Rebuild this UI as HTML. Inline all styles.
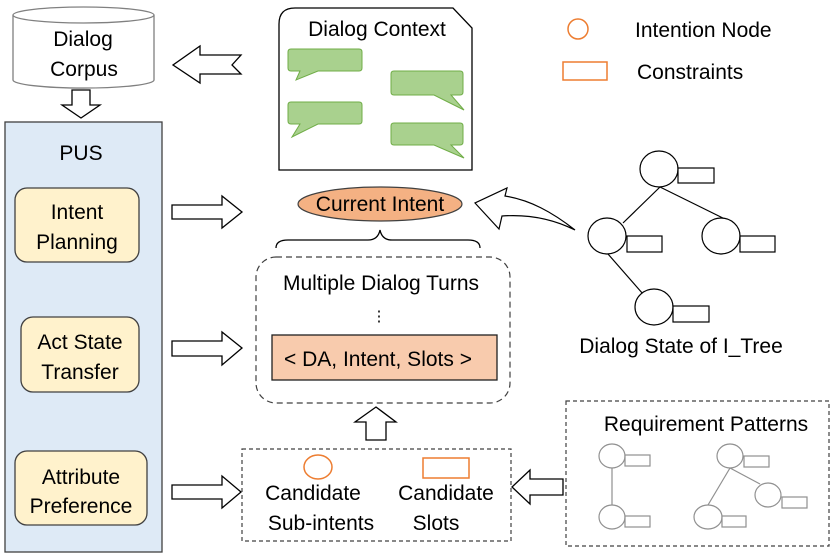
<!DOCTYPE html>
<html><head><meta charset="utf-8"><style>
html,body{margin:0;padding:0;background:#fff}
svg{display:block}
text{font-family:"Liberation Sans",sans-serif;font-size:21px;fill:#000}
</style></head><body>
<svg width="830" height="558" viewBox="0 0 830 558" xmlns="http://www.w3.org/2000/svg">
<!-- cylinder -->
<path d="M13,15 L13,80 A70,8 0 0 0 154,80 L154,15" fill="#fff" stroke="#808080" stroke-width="1.3"/>
<ellipse cx="83.5" cy="15" rx="70.5" ry="8" fill="#fff" stroke="#808080" stroke-width="1.3"/>
<text x="83" y="46" text-anchor="middle">Dialog</text>
<text x="84" y="76" text-anchor="middle">Corpus</text>
<!-- left arrow -->
<path d="M241,55 L200,55 L200,46 L173,65 L200,83 L200,74 L241,74 L232,65 Z" fill="#fff" stroke="#000" stroke-width="1.3"/>
<!-- down arrow -->
<path d="M72,90 L90,90 L90,105 L100,105 L81,118 L62,105 L72,105 Z" fill="#fff" stroke="#000" stroke-width="1.3"/>
<!-- PUS -->
<rect x="5" y="122" width="157" height="430" fill="#DEEAF6" stroke="#404040" stroke-width="1.3"/>
<text x="81" y="160" text-anchor="middle">PUS</text>
<rect x="15" y="188" width="124" height="74" rx="12" fill="#FFF2CC" stroke="#404040" stroke-width="1.3"/>
<text x="77" y="219" text-anchor="middle">Intent</text>
<text x="77" y="249" text-anchor="middle">Planning</text>
<rect x="21" y="317" width="118" height="75" rx="12" fill="#FFF2CC" stroke="#404040" stroke-width="1.3"/>
<text x="80" y="349" text-anchor="middle">Act State</text>
<text x="80" y="379" text-anchor="middle">Transfer</text>
<rect x="15" y="451" width="132" height="74" rx="12" fill="#FFF2CC" stroke="#404040" stroke-width="1.3"/>
<text x="81" y="484" text-anchor="middle">Attribute</text>
<text x="81" y="513" text-anchor="middle">Preference</text>
<!-- right arrows -->
<path d="M172,205 L222,205 L222,196 L242,212 L222,228 L222,219 L172,219 Z" fill="#fff" stroke="#000" stroke-width="1.3"/>
<path d="M172,341 L222,341 L222,332 L242,348 L222,365 L222,356 L172,356 Z" fill="#fff" stroke="#000" stroke-width="1.3"/>
<path d="M172,485 L222,485 L222,476 L241,492 L222,508 L222,499 L172,499 Z" fill="#fff" stroke="#000" stroke-width="1.3"/>
<!-- dialog context -->
<path d="M295,8 L453,8 L472,28 L472,170 L279,170 L279,24 Q279,8 295,8 Z" fill="#fff" stroke="#000" stroke-width="1.3"/>
<text x="377" y="36" text-anchor="middle">Dialog Context</text>
<g fill="#A9D18E" stroke="#70AD47" stroke-width="1">
<path d="M291,49 L359,49 Q362,49 362,52 L362,68 Q362,71 359,71 L318,71 L296,80 L300,71 L291,71 Q288,71 288,68 L288,52 Q288,49 291,49 Z"/>
<path d="M394,71 L460,71 Q463,71 463,74 L463,92 Q463,95 460,95 L451,95 L464,110 L434,95 L394,95 Q391,95 391,92 L391,74 Q391,71 394,71 Z"/>
<path d="M291,102 L359,102 Q362,102 362,105 L362,121 Q362,124 359,124 L318,124 L292,137 L300,124 L291,124 Q288,124 288,121 L288,105 Q288,102 291,102 Z"/>
<path d="M394,123 L460,123 Q463,123 463,126 L463,142 Q463,145 460,145 L451,145 L464,158 L434,145 L394,145 Q391,145 391,142 L391,126 Q391,123 394,123 Z"/>
</g>
<!-- legend -->
<ellipse cx="578" cy="29" rx="10" ry="10" fill="#fff" stroke="#ED7D31" stroke-width="1.5"/>
<text x="635" y="37">Intention Node</text>
<rect x="563" y="62" width="44" height="18" fill="#fff" stroke="#ED7D31" stroke-width="1.5"/>
<text x="637" y="79">Constraints</text>
<!-- current intent -->
<ellipse cx="380" cy="204" rx="82" ry="17" fill="#F4B183" stroke="#404040" stroke-width="1.2"/>
<text x="380" y="211" text-anchor="middle">Current Intent</text>
<!-- brace -->
<path d="M276,248 Q276,240 288,240 L368,240 Q378,240 380,230 Q382,240 392,240 L468,240 Q480,240 480,248" fill="none" stroke="#000" stroke-width="1.3"/>
<!-- curved arrow -->
<path d="M575,230 C552,212 530,200 505,196 L507,188 L475,203 L499,229 L502,216 C530,214 555,220 575,230 Z" fill="#fff" stroke="#000" stroke-width="1.2"/>
<!-- multiple dialog turns -->
<rect x="256" y="257" width="254" height="146" rx="20" fill="#fff" stroke="#404040" stroke-width="1.2" stroke-dasharray="6,4"/>
<text x="381" y="290" text-anchor="middle">Multiple Dialog Turns</text>
<text x="379" y="321" text-anchor="middle" style="font-size:15px">⋮</text>
<rect x="272" y="335" width="225" height="45" fill="#F8CBAD" stroke="#202020" stroke-width="1.3"/>
<text x="378" y="366" text-anchor="middle">&lt; DA, Intent, Slots &gt;</text>
<!-- up arrow -->
<path d="M366,440 L386,440 L386,422 L396,422 L376,407 L355,422 L366,422 Z" fill="#fff" stroke="#000" stroke-width="1.3"/>
<!-- candidate box -->
<rect x="242" y="449" width="269" height="92" fill="#fff" stroke="#404040" stroke-width="1.2" stroke-dasharray="4,3"/>
<ellipse cx="318" cy="467" rx="14" ry="12" fill="#fff" stroke="#ED7D31" stroke-width="1.5"/>
<rect x="423" y="458" width="46" height="20" fill="#fff" stroke="#ED7D31" stroke-width="1.5"/>
<text x="313" y="500" text-anchor="middle">Candidate</text>
<text x="321" y="530" text-anchor="middle">Sub-intents</text>
<text x="446" y="500" text-anchor="middle">Candidate</text>
<text x="436" y="530" text-anchor="middle">Slots</text>
<!-- left arrow from patterns -->
<path d="M563,479 L530,479 L530,470 L512,487 L530,504 L530,495 L563,495 Z" fill="#fff" stroke="#000" stroke-width="1.3"/>
<!-- requirement patterns -->
<rect x="566" y="401" width="263" height="145" fill="#fff" stroke="#404040" stroke-width="1.2" stroke-dasharray="4,3"/>
<text x="706" y="431" text-anchor="middle">Requirement Patterns</text>
<g fill="#fff" stroke="#909090" stroke-width="1.2">
<line x1="612" y1="468" x2="612" y2="505"/>
<ellipse cx="612" cy="456" rx="13" ry="12"/><rect x="625" y="455" width="25" height="11"/>
<ellipse cx="612" cy="517" rx="13" ry="12"/><rect x="625" y="516" width="25" height="11"/>
<line x1="730" y1="468" x2="708" y2="505"/>
<line x1="730" y1="468" x2="760" y2="484"/>
<ellipse cx="730" cy="456" rx="13" ry="12"/><rect x="744" y="456" width="25" height="11"/>
<ellipse cx="768" cy="495" rx="13" ry="12"/><rect x="782" y="497" width="25" height="11"/>
<ellipse cx="708" cy="517" rx="14" ry="12"/><rect x="722" y="516" width="24" height="11"/>
</g>
<!-- tree -->
<g fill="#fff" stroke="#000" stroke-width="1.2">
<line x1="660" y1="187" x2="623" y2="223"/>
<line x1="660" y1="187" x2="735" y2="224"/>
<line x1="608" y1="254" x2="643" y2="294"/>
<ellipse cx="659" cy="169" rx="19" ry="18"/><rect x="678" y="168" width="36" height="15"/>
<ellipse cx="607" cy="236" rx="19" ry="18"/><rect x="627" y="236" width="35" height="16"/>
<ellipse cx="721" cy="236" rx="19" ry="18"/><rect x="740" y="236" width="35" height="16"/>
<ellipse cx="654" cy="307" rx="19" ry="18"/><rect x="673" y="306" width="36" height="16"/>
</g>
<text x="681" y="353" text-anchor="middle">Dialog State of I_Tree</text>
</svg>
</body></html>
